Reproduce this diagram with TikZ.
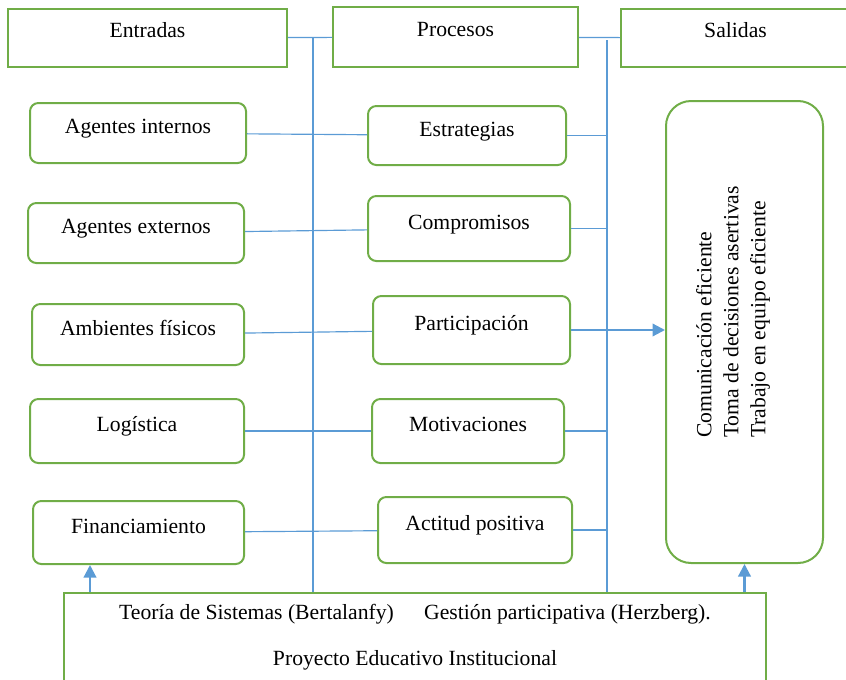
\documentclass[tikz,border=0pt]{standalone}
\usepackage{fontspec}
\setmainfont{Liberation Serif}
\usetikzlibrary{positioning, arrows.meta, calc}
\definecolor{boxgreen}{HTML}{70AD47}
\definecolor{lineblue}{HTML}{5B9BD5}

\begin{document}
\begin{tikzpicture}[
  x=0.6pt, y=-0.6pt,
  head/.style={draw=boxgreen, line width=1.2pt, inner sep=0pt, text height=8pt, text depth=9pt,
               font=\fontsize{13}{16}\selectfont},
  item/.style={head, rounded corners=5pt, text depth=7pt},
  result/.style={draw=boxgreen, line width=1.2pt, rounded corners=15pt},
  base/.style={draw=boxgreen, line width=1.2pt, align=center, inner xsep=0pt, inner ysep=6.5pt,
               font=\fontsize{13}{16}\selectfont},
  txt/.style={align=left, font=\fontsize{13}{16.2}\selectfont},
  ln/.style={draw=lineblue, line width=0.7pt},
  arr/.style={ln, line width=1.3pt, -{Triangle[length=7.5pt, width=7.5pt]}},
]
\useasboundingbox (0,0) rectangle (846,680);

% Headers
\node[head, minimum width=167.4pt, minimum height=34.8pt] (ent) at (147.5,38) {Entradas};
\node[head, minimum width=147pt, minimum height=36pt] (pro) at (455.5,37) {Procesos};
\node[head, minimum width=137.4pt, minimum height=34.8pt] (sal) at (735.5,38) {Salidas};

% Inputs
\node[item, minimum width=129.6pt, minimum height=36pt] (ai) at (138,133) {Agentes internos};
\node[item, minimum width=129.6pt, minimum height=36pt] (ae) at (136,233) {Agentes externos};
\node[item, minimum width=127.2pt, minimum height=36.6pt] (af) at (138,334.5) {Ambientes físicos};
\node[item, minimum width=128.4pt, minimum height=38.4pt] (lo) at (137,431) {Logística};
\node[item, minimum width=126.6pt, minimum height=37.8pt] (fi) at (138.5,532.5) {Financiamiento};

% Processes
\node[item, minimum width=118.8pt, minimum height=35.4pt] (es) at (467,135.5) {Estrategias};
\node[item, minimum width=121.2pt, minimum height=39pt] (co) at (469,228.5) {Compromisos};
\node[item, minimum width=118.2pt, minimum height=40.8pt] (pa) at (471.5,330) {Participación};
\node[item, minimum width=115.2pt, minimum height=38.4pt] (mo) at (468,431) {Motivaciones};
\node[item, minimum width=116.4pt, minimum height=39.6pt] (ac) at (475,530) {Actitud positiva};

% Outputs
\node[result, minimum width=94.2pt, minimum height=277.2pt] (res) at (744.5,332) {};
\node[txt, rotate=90] (restext) at (733,312)
  {Comunicación eficiente\\Toma de decisiones asertivas\\Trabajo en equipo eficiente};

% Base
\node[base, minimum width=421.2pt, anchor=north] (peb) at (415,592)
  {Teoría de Sistemas (Bertalanfy)\hspace{1.4em}Gestión participativa (Herzberg).\\[11.6pt]
   Proyecto Educativo Institucional\rule[-25pt]{0pt}{0pt}};

% Lines
\coordinate (j1) at (313,38);
\coordinate (j2) at (607,40);
\draw[ln] (ent) -- (pro);
\draw[ln] (pro) -- (sal);
\draw[ln] (j1) -- (j1 |- peb.north);
\draw[ln] (j2) -- (j2 |- peb.north);
\foreach \a/\b in {ai/es, ae/co, af/pa, lo/mo, fi/ac}
  \draw[ln] (\a) -- (\b);
\foreach \b in {es, co, pa, mo, ac}
  \draw[ln] (\b.east) -- (\b.east -| j2);

% Arrows
\draw[arr] (pa.east -| j2) -- (pa.east -| res.west);
\draw[arr] ([xshift=-29.1pt]fi.south |- peb.north) -- ([xshift=-29.1pt]fi.south);
\draw[arr] (res.south |- peb.north) -- (res.south);

\end{tikzpicture}
\end{document}
